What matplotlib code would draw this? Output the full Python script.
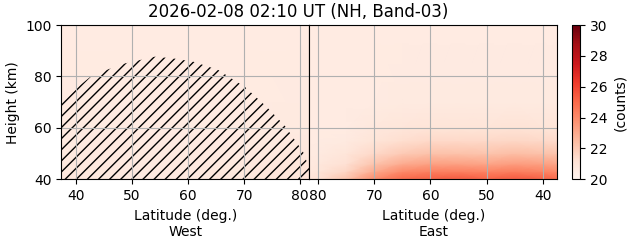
import numpy as np
import matplotlib.pyplot as plt

# latitude / height grid nodes (deg., km)
west_lat = [37.4, 50, 60, 70, 80, 81.6]
west_height = [40, 50, 60, 100]
# rows = heights, cols = latitudes
west_counts = [
    [20.8, 20.7, 20.7, 20.8, 21.0, 21.1],
    [20.7, 20.7, 20.7, 20.7, 20.8, 20.8],
    [20.7, 20.6, 20.6, 20.6, 20.7, 20.7],
    [20.6, 20.6, 20.6, 20.6, 20.6, 20.6],
]

east_lat = [37.5, 40, 45, 50, 55, 60, 65, 70, 75, 80, 81.5]
east_height = [40, 43, 46, 50, 55, 60, 70, 100]
east_counts = [
    [25.0, 25.3, 25.5, 25.2, 25.5, 25.3, 25.0, 24.0, 22.3, 21.2, 21.0],
    [24.0, 24.2, 24.4, 24.2, 24.3, 24.3, 24.0, 23.0, 21.6, 20.9, 20.8],
    [23.2, 23.3, 23.4, 23.2, 23.3, 23.3, 23.0, 22.2, 21.2, 20.8, 20.7],
    [22.2, 22.3, 22.4, 22.2, 22.3, 22.3, 22.0, 21.5, 20.9, 20.7, 20.7],
    [21.4, 21.5, 21.6, 21.5, 21.5, 21.5, 21.3, 21.0, 20.7, 20.6, 20.6],
    [21.0, 21.0, 21.1, 21.0, 21.0, 21.0, 20.9, 20.8, 20.6, 20.6, 20.6],
    [20.7, 20.7, 20.7, 20.7, 20.7, 20.7, 20.7, 20.6, 20.6, 20.6, 20.6],
    [20.6, 20.6, 20.6, 20.6, 20.6, 20.6, 20.6, 20.6, 20.6, 20.6, 20.6],
]

# shadow boundary on the west side (hatched area below)
shadow_lat = [37.4, 40.8, 42.5, 45.8, 48.8, 54.1, 57.4, 61.0, 65.4, 70.2,
              74.0, 77.3, 80.5, 81.6]
shadow_height = [69.6, 76.7, 79.7, 82.8, 85.1, 87.7, 87.0, 85.7, 82.5, 75.8,
                 68.2, 60.7, 50.7, 44.3]

title = '2026-02-08 02:10 UT (NH, Band-03)'
vmin, vmax = 20, 30

fig = plt.figure(figsize=(6.31, 2.43), dpi=100)
ax_w = fig.add_axes([0.0971, 0.262, 0.393, 0.635])
ax_e = fig.add_axes([0.4902, 0.262, 0.393, 0.635])
cax = fig.add_axes([0.907, 0.262, 0.0122, 0.635])

mesh = ax_w.pcolormesh(west_lat, west_height, np.array(west_counts),
                       shading='gouraud', cmap='Reds', vmin=vmin, vmax=vmax)
ax_w.fill_between(shadow_lat, 40, shadow_height, hatch='///',
                  facecolor='none', edgecolor='black', linewidth=0)
ax_w.set_xlim(37.4, 81.6)
ax_w.set_ylim(40, 100)
ax_w.set_xticks([40, 50, 60, 70, 80])
ax_w.set_yticks([40, 60, 80, 100])
ax_w.set_ylabel('Height (km)')
ax_w.set_xlabel('Latitude (deg.)\nWest')
ax_w.grid(True)

ax_e.pcolormesh(east_lat, east_height, np.array(east_counts),
                shading='gouraud', cmap='Reds', vmin=vmin, vmax=vmax)
ax_e.set_xlim(81.5, 37.5)
ax_e.set_ylim(40, 100)
ax_e.set_xticks([80, 70, 60, 50, 40])
ax_e.set_yticks([40, 60, 80, 100])
ax_e.tick_params(left=False, labelleft=False)
ax_e.set_xlabel('Latitude (deg.)\nEast')
ax_e.grid(True)

cb = fig.colorbar(mesh, cax=cax, ticks=np.arange(20, 31, 2))
cb.set_label('(counts)')

fig.text(298 / 631, 1 - 12 / 243, title, ha='center', va='center', fontsize=12)

fig.savefig('out.png', dpi=100)
